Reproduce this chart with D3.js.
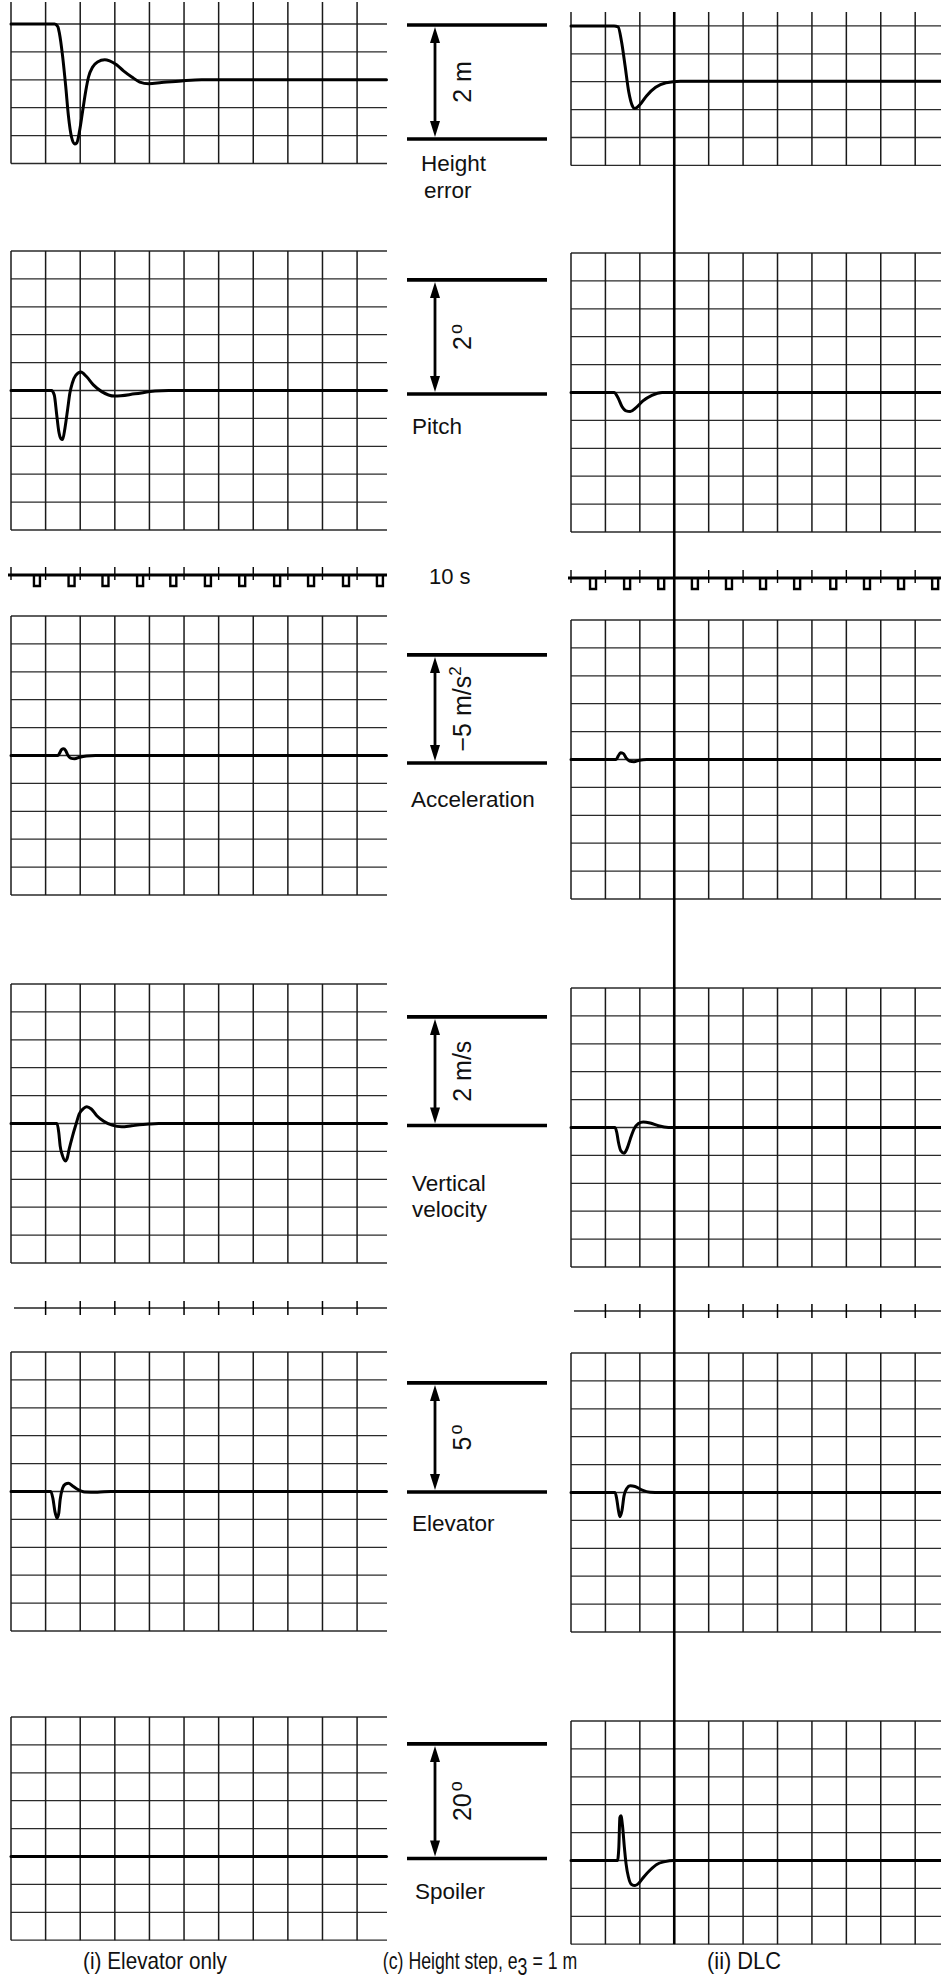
<!DOCTYPE html>
<html>
<head>
<meta charset="utf-8">
<script src="https://cdn.jsdelivr.net/npm/d3@7"></script>
<style>
  body { margin: 0; background: #fff; }
  svg { display: block; }
  text { font-family: "Liberation Sans", Arial, Helvetica, sans-serif; fill: #111; }
</style>
</head>
<body>
<svg id="chart" width="941" height="1981"></svg>
<script>
// ---- recorder data: time in seconds, values in channel units ----
const gridTimes = [0, 10, 20, 30, 40, 50, 60, 70, 80, 90, 100];
const timerMarksElev = [7.5, 17.5, 27.3, 37.3, 46.9, 56.9, 66.8, 76.9, 86.7, 96.8, 106.6];
const timerMarksDLC = [6.4, 16.3, 26.2, 36.0, 45.9, 55.8, 65.7, 76.2, 86.0, 95.9, 105.8];

const channelLabels = [["Height", "error"], ["Pitch"], ["Acceleration"], ["Vertical", "velocity"], ["Elevator"], ["Spoiler"]];
const scaleValues = ["2", "2", "−5", "2", "5", "20"];
const scaleUnits = ["m", "°", "m/s²", "m/s", "°", "°"];
const scaleSpans = [2, 2, -5, 2, 5, 20];          // channel units per four divisions
const scaleBarEnds = [[1, -1], [0, 2], [0, -5], [0, 2], [0, 5], [0, 20]];
const timeLabel = "10 s";
const captionElev = "(i)  Elevator only";
const captionMain = ["(c)  Height step,  e", "3", " = 1 m"];
const captionDLC = "(ii)  DLC";

// (i) elevator only
const heightElev = [[0, 1], [12.6, 1], [13.5, 0.955], [14.0, 0.83], [14.9, 0.43], [15.8, -0.11], [16.6, -0.65], [17.5, -1.03], [18.4, -1.15], [19.0, -1.13], [19.8, -0.92], [20.7, -0.56], [21.6, -0.2], [22.4, 0.05], [23.6, 0.23], [25.0, 0.32], [27.1, 0.36], [28.5, 0.34], [30.5, 0.27], [32.5, 0.16], [34.9, 0.05], [37.2, -0.04], [39.8, -0.07], [43.5, -0.05], [49.3, -0.02], [55.1, 0], [108.5, 0]];
const pitchElev = [[0, 0], [11.7, 0], [12.5, -0.08], [13.2, -0.43], [13.8, -0.73], [14.4, -0.86], [14.9, -0.88], [15.6, -0.67], [16.4, -0.32], [17.0, -0.05], [17.7, 0.13], [18.7, 0.27], [20.2, 0.33], [21.8, 0.25], [23.8, 0.1], [26.2, -0.02], [30.0, -0.1], [35.8, -0.06], [41.6, -0.01], [45.5, 0], [108.5, 0]];
const accelElev = [[0, 0], [13.5, 0], [14.1, -0.12], [14.6, -0.26], [15.2, -0.3], [15.8, -0.22], [16.4, -0.02], [17.2, 0.12], [18.4, 0.15], [19.8, 0.08], [21.8, 0.02], [24.4, 0], [108.5, 0]];
const vertVelElev = [[0, 0], [13.3, 0], [13.8, -0.16], [14.2, -0.4], [14.9, -0.58], [15.7, -0.67], [16.2, -0.63], [16.8, -0.46], [17.8, -0.22], [18.8, -0.01], [19.7, 0.17], [21.0, 0.27], [21.9, 0.3], [23.2, 0.26], [24.8, 0.14], [26.8, 0.04], [29.2, -0.03], [32.0, -0.06], [34.9, -0.04], [39.8, -0.01], [42.7, 0], [108.5, 0]];
const elevatorElev = [[0, 0], [11.5, 0], [12.1, -0.3], [12.7, -0.9], [13.3, -1.19], [13.8, -0.97], [14.2, -0.37], [14.9, 0.15], [15.7, 0.33], [16.6, 0.37], [17.8, 0.25], [19.2, 0.1], [21.2, -0.02], [25.0, -0.03], [28.8, 0], [108.5, 0]];
const spoilerElev = [[0, 0], [108.5, 0]];

// (ii) direct lift control
const heightDLC = [[0, 1], [12.5, 1], [13.7, 0.98], [14.7, 0.71], [15.7, 0.29], [16.8, -0.19], [17.8, -0.43], [18.5, -0.48], [19.9, -0.42], [22.0, -0.25], [24.6, -0.1], [27.6, -0.02], [31.8, 0.01], [107.5, 0.01]];
const pitchDLC = [[0, 0], [12.5, 0], [13.7, -0.1], [14.8, -0.25], [16.0, -0.33], [17.2, -0.34], [18.9, -0.27], [20.9, -0.15], [23.5, -0.05], [26.5, 0], [107.5, 0]];
const accelDLC = [[0, 0], [13.1, 0], [13.7, -0.15], [14.4, -0.3], [15.2, -0.27], [16.0, -0.07], [17.0, 0.07], [18.3, 0.1], [19.9, 0.03], [22.0, 0], [107.5, 0]];
const vertVelDLC = [[0, 0], [12.8, 0], [13.3, -0.09], [13.8, -0.27], [14.5, -0.42], [15.4, -0.46], [16.2, -0.39], [17.2, -0.21], [18.3, -0.03], [19.6, 0.07], [21.0, 0.1], [23.0, 0.08], [25.4, 0.03], [28.3, 0], [107.5, 0]];
const elevatorDLC = [[0, 0], [12.8, 0], [13.3, -0.3], [13.8, -0.82], [14.2, -1.09], [14.8, -0.82], [15.4, -0.15], [16.2, 0.18], [17.2, 0.3], [18.6, 0.27], [20.5, 0.12], [23.0, 0.01], [25.9, 0], [107.5, 0]];
const spoilerDLC = [[0, 0], [13.5, 0], [13.9, 2.4], [14.2, 7.7], [14.5, 8.0], [15.0, 6.0], [15.5, 2.4], [16.0, -0.6], [16.7, -3.0], [17.6, -4.3], [18.6, -4.5], [19.8, -4.0], [21.2, -2.9], [23.0, -1.7], [24.9, -0.7], [27.3, -0.2], [29.7, 0], [107.5, 0]];

const tracesElev = [heightElev, pitchElev, accelElev, vertVelElev, elevatorElev, spoilerElev];
const tracesDLC = [heightDLC, pitchDLC, accelDLC, vertVelDLC, elevatorDLC, spoilerDLC];

// ---- layout ----
const svg = d3.select("#chart");
const rowH = 27.9;
const xL = d3.scaleLinear().domain([0, 108.5]).range([11, 386.5]);
const xR = d3.scaleLinear().domain([0, 107.5]).range([571, 941]);

const sides = [
  { x: xL, xEnd: 387, tops: [-3.9, 251, 616, 984, 1352, 1717], vTop0: 2, traces: tracesElev,
    timerY: 575, timerMarks: timerMarksElev, tickY: 1308 },
  { x: xR, xEnd: 941, tops: [-2, 253, 620, 988, 1353, 1721], vTop0: 12, traces: tracesDLC,
    timerY: 578, timerMarks: timerMarksDLC, tickY: 1311 }
];
const rowCounts = [6, 10, 10, 10, 10, 8];
const baseRows = [3, 5, 5, 5, 5, 5];

function yScaleFor(side, i) {
  const base = side.tops[i] + baseRows[i] * rowH;
  return d3.scaleLinear().domain([0, scaleSpans[i]]).range([base, base - 4 * rowH]);
}

const gridG = svg.append("g");
const traceG = svg.append("g");

sides.forEach(side => {
  const x = side.x;
  side.tops.forEach((top, i) => {
    const bottom = top + rowCounts[i] * rowH;
    const vTop = i === 0 ? side.vTop0 : top;
    // horizontal rulings
    d3.range(rowCounts[i] + 1).forEach(k => {
      const y = top + k * rowH;
      if (y < 0) return;
      gridG.append("line")
        .attr("x1", x(0)).attr("x2", side.xEnd)
        .attr("y1", y).attr("y2", y)
        .attr("stroke", "#2a2a2a").attr("stroke-width", 1.3);
    });
    // vertical rulings, one per time division
    gridG.selectAll(null).data(gridTimes).enter().append("line")
      .attr("x1", d => x(d)).attr("x2", d => x(d))
      .attr("y1", vTop).attr("y2", bottom)
      .attr("stroke", "#1a1a1a").attr("stroke-width", 1.5);

    // recorded trace
    const y = yScaleFor(side, i);
    const line = d3.line().x(d => x(d[0])).y(d => y(d[1])).curve(d3.curveMonotoneX);
    traceG.append("path")
      .attr("d", line(side.traces[i]))
      .attr("fill", "none").attr("stroke", "#000")
      .attr("stroke-width", 3).attr("stroke-linejoin", "round").attr("stroke-linecap", "round");
  });

  // timing channel with pulse marks
  const ty = side.timerY;
  gridG.append("line").attr("x1", x(0) - 3).attr("x2", side.xEnd).attr("y1", ty).attr("y2", ty)
    .attr("stroke", "#000").attr("stroke-width", 3);
  gridG.selectAll(null).data(gridTimes).enter().append("line")
    .attr("x1", d => x(d)).attr("x2", d => x(d)).attr("y1", ty - 8).attr("y2", ty + 5)
    .attr("stroke", "#000").attr("stroke-width", 1.4);
  gridG.selectAll(null).data(side.timerMarks).enter().append("path")
    .attr("d", d => `M${x(d) - 3},${ty} V${ty + 11} H${x(d) + 3} V${ty}`)
    .attr("fill", "none").attr("stroke", "#000").attr("stroke-width", 2.4);

  // event channel with division ticks
  const ky = side.tickY;
  gridG.append("line").attr("x1", x(0) + 3).attr("x2", side.xEnd).attr("y1", ky).attr("y2", ky)
    .attr("stroke", "#222").attr("stroke-width", 1.5);
  gridG.selectAll(null).data(gridTimes.slice(1)).enter().append("line")
    .attr("x1", d => x(d)).attr("x2", d => x(d)).attr("y1", ky - 7).attr("y2", ky + 7)
    .attr("stroke", "#000").attr("stroke-width", 1.5);
});

// common time cursor through the DLC records
svg.append("line")
  .attr("x1", xR(30)).attr("x2", xR(30)).attr("y1", 12).attr("y2", 1944)
  .attr("stroke", "#000").attr("stroke-width", 2.6);

// ---- centre column: scale bars and channel names ----
const centreG = svg.append("g");
const barX1 = 407, barX2 = 547, arrowX = 435;
const barNudge = [[0, 2.5], [0, 2.5], [9, 5.5], [3, 0], [2.5, 0], [-3, 0]];
const labelX = [421, 412, 411, 412, 412, 415];
const labelBaselines = [[171, 198], [434], [807], [1191, 1217], [1531], [1899]];

scaleBarEnds.forEach((ends, i) => {
  const yl = yScaleFor(sides[0], i), yr = yScaleFor(sides[1], i);
  const yv = v => (yl(v) + yr(v)) / 2;
  const yA = yv(ends[0]), yB = yv(ends[1]);
  const yTop = Math.min(yA, yB) + barNudge[i][0], yBot = Math.max(yA, yB) + barNudge[i][1];
  [yTop, yBot].forEach(yy => centreG.append("line")
    .attr("x1", barX1).attr("x2", barX2).attr("y1", yy).attr("y2", yy)
    .attr("stroke", "#000").attr("stroke-width", 3.6));
  centreG.append("line").attr("x1", arrowX).attr("x2", arrowX)
    .attr("y1", yTop + 10).attr("y2", yBot - 10)
    .attr("stroke", "#000").attr("stroke-width", 2.8);
  centreG.append("path")
    .attr("d", `M${arrowX},${yTop + 2} L${arrowX - 5},${yTop + 18} L${arrowX + 5},${yTop + 18} Z`)
    .attr("fill", "#000");
  centreG.append("path")
    .attr("d", `M${arrowX},${yBot - 2} L${arrowX - 5},${yBot - 18} L${arrowX + 5},${yBot - 18} Z`)
    .attr("fill", "#000");

  // rotated scale value
  const t = centreG.append("text")
    .attr("transform", `translate(471,${(yTop + yBot) / 2}) rotate(-90)`)
    .attr("text-anchor", "middle").attr("font-size", 25);
  const unit = scaleUnits[i];
  if (unit === "°") {
    t.append("tspan").text(scaleValues[i]);
    t.append("tspan").attr("dx", 2).attr("dy", -9).attr("font-size", 18).text("o");
  } else if (unit.endsWith("²")) {
    t.append("tspan").text(scaleValues[i] + " " + unit.slice(0, -1));
    t.append("tspan").attr("font-size", 17).attr("dy", -10).text("2");
  } else {
    t.text(scaleValues[i] + " " + unit);
  }

  channelLabels[i].forEach((s, j) => centreG.append("text")
    .attr("x", labelX[i] + (i === 0 && j === 1 ? 3 : 0))
    .attr("y", labelBaselines[i][j])
    .attr("font-size", 22.5).text(s));
});

centreG.append("text").attr("x", 429).attr("y", 584).attr("font-size", 22).text(timeLabel);

// ---- captions (narrow face emulated with a horizontal squeeze) ----
const capG = svg.append("g").attr("font-size", 23);
capG.append("text").attr("text-anchor", "middle")
  .attr("transform", "translate(155,1969) scale(0.9,1)").text(captionElev);
const c2 = capG.append("text").attr("text-anchor", "middle")
  .attr("transform", "translate(480,1969) scale(0.77,1)");
c2.append("tspan").text(captionMain[0]);
c2.append("tspan").attr("dy", 6).text(captionMain[1]);
c2.append("tspan").attr("dy", -6).text(captionMain[2]);
capG.append("text").attr("text-anchor", "middle")
  .attr("transform", "translate(744,1969) scale(0.95,1)").text(captionDLC);
</script>
</body>
</html>
